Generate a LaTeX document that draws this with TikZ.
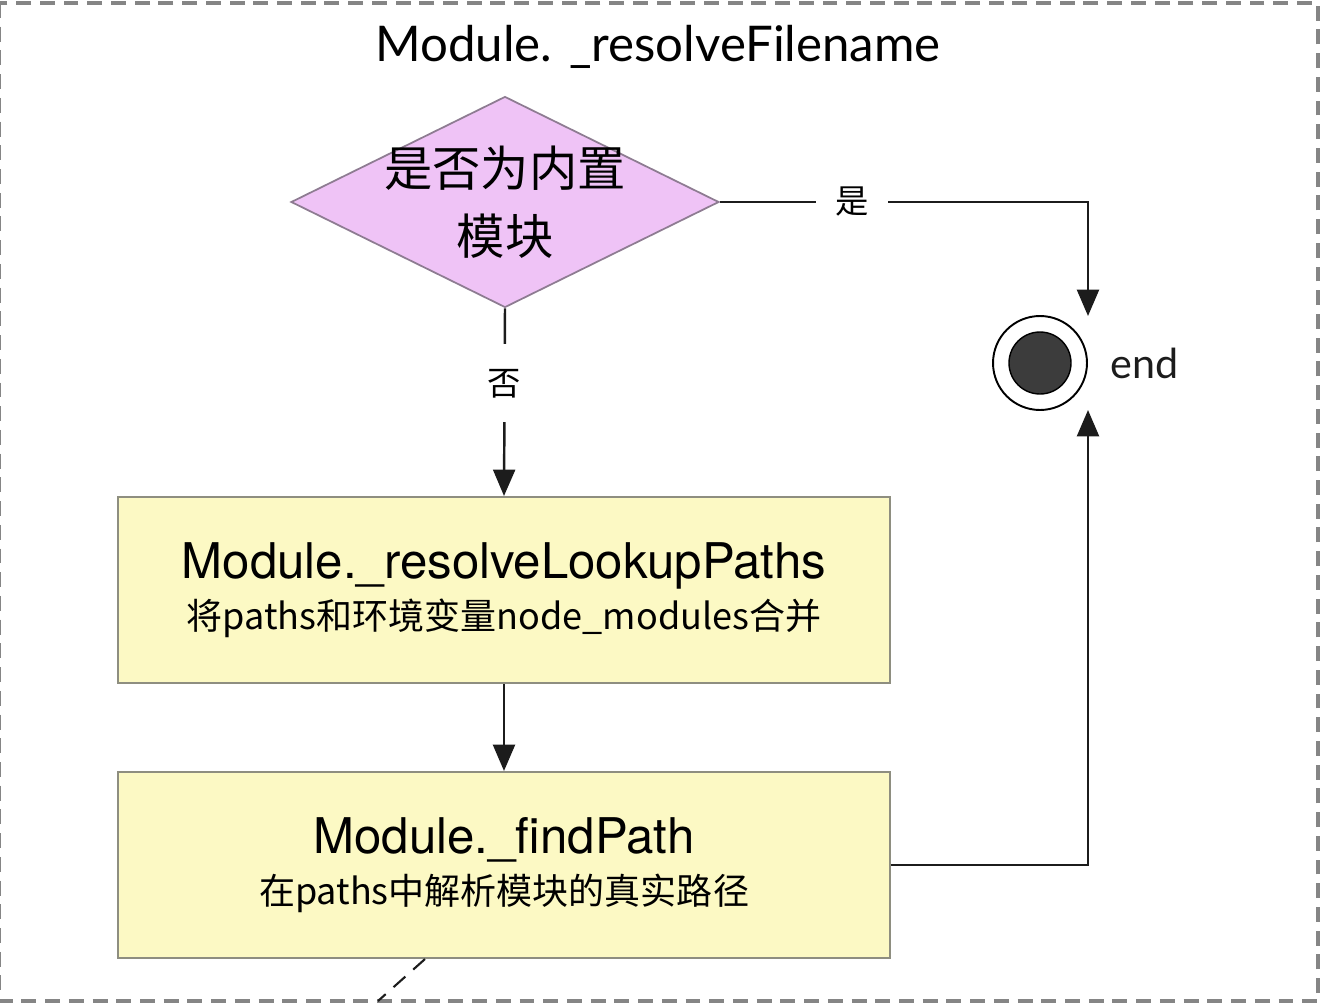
\documentclass[tikz,border=0pt]{standalone}
\usepackage{fontspec}
\setmainfont{TeX Gyre Heros}
\newfontfamily\cjk{Noto Sans CJK SC}
\newfontfamily\avenir{Lato}
\usetikzlibrary{arrows.meta,shapes.geometric,calc}

\definecolor{framegray}{HTML}{858585}
\definecolor{linegray}{HTML}{1C1C1C}
\definecolor{pinkfill}{HTML}{EFC3F6}
\definecolor{pinkline}{HTML}{8E7C92}
\definecolor{yellowfill}{HTML}{FCF9C4}
\definecolor{yellowline}{HTML}{8E8E80}
\definecolor{dotgray}{HTML}{3C3C3C}

\newcommand{\subline}{\cjk\fontsize{20.5}{24}\selectfont}

\begin{document}
\begin{tikzpicture}[x=0.02cm, y=-0.02cm, >={Triangle[length=15pt,width=12.5pt]},
  flow/.style={draw=linegray, line width=1.4pt},
  decision/.style={diamond, draw=pinkline, fill=pinkfill, line width=1pt,
    minimum width=8.56cm, minimum height=4.22cm, inner sep=0pt},
  stepbox/.style={rectangle, draw=yellowline, fill=yellowfill, line width=1.2pt,
    minimum width=15.44cm, minimum height=3.72cm, align=center, inner sep=0pt,
    font=\fontsize{28}{29}\selectfont},
  lab/.style={fill=white, font=\cjk\fontsize{19}{22}\selectfont, inner xsep=11pt, inner ysep=14pt}]
  \useasboundingbox (0,0) rectangle (1322,1004);

  % --- outer frame ---
  \draw[framegray, line width=2pt, dash pattern=on 8.5pt off 5pt] (-0.5,3) rectangle (1318,1001);

  % --- title ---
  \node[font=\avenir\fontsize{28}{34}\selectfont] (title) at (658,47) {Module. \_resolveFilename};

  % --- decision ---
  \node[decision, label={[font=\cjk\fontsize{27.5}{39}\selectfont, align=center]center:{是否为内置\\模块}}]
    (builtin) at (505,202) {};

  % --- steps ---
  \node[stepbox] (lookup) at (504,590)
    {Module.\_resolveLookupPaths\\{\subline 将paths和环境变量node\_modules合并}};
  \node[stepbox] (find) at (504,865)
    {Module.\_findPath\\{\subline 在paths中解析模块的真实路径}};

  % --- end ---
  \node[circle, draw=black, line width=1.1pt, minimum size=1.88cm, inner sep=0pt,
    label={[font=\avenir\fontsize{23.5}{28}\selectfont, text=linegray, xshift=0.33cm]right:end}]
    (end) at (1040,363) {};
  \node[circle, draw=black, fill=dotgray, line width=0.8pt, minimum size=1.24cm, inner sep=0pt]
    (enddot) at (end) {};
  \coordinate (endtop) at (1088,316);
  \coordinate (endbot) at (1088,410);
  \coordinate (away) at (378,1001);

  % --- connectors ---
  \draw[flow, ->] (builtin.east) -- node[lab, pos=0.36] {是} (builtin.east -| endtop) -- (endtop);
  \draw[flow, ->] (builtin.south) -- node[lab, pos=0.4] {否} (lookup.north);
  \draw[flow, ->] (lookup.south) -- (find.north);
  \draw[flow, ->] (find.east) -- (find.east -| endbot) -- (endbot);
  \draw[linegray, line width=1.2pt, dash pattern=on 9pt off 6pt] ($(find.south)+(-79,0)$) -- (away);
\end{tikzpicture}
\end{document}
